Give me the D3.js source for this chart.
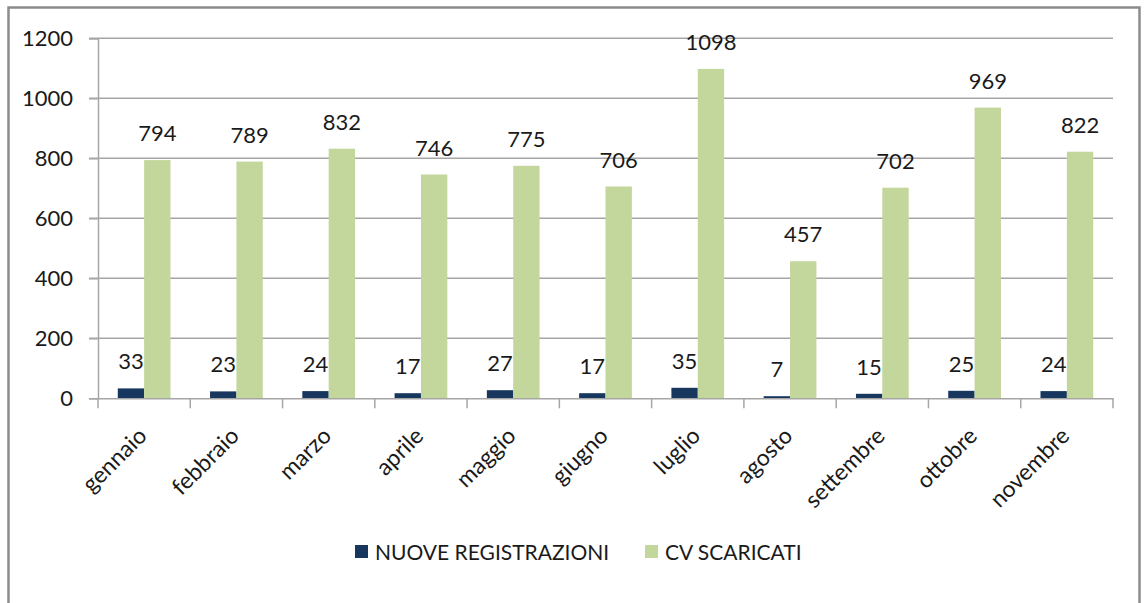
<!DOCTYPE html>
<html>
<head>
<meta charset="utf-8">
<script src="https://cdn.jsdelivr.net/npm/d3@7"></script>
<style>
  html, body { margin: 0; padding: 0; background: #fff; }
  svg { display: block; font-family: Lato, "Open Sans", sans-serif; }
</style>
</head>
<body>
<svg id="chart" width="1145" height="603"></svg>
<script>
// Monthly figures
const months = ["gennaio", "febbraio", "marzo", "aprile", "maggio", "giugno",
                "luglio", "agosto", "settembre", "ottobre", "novembre"];
const nuoveRegistrazioni = [33, 23, 24, 17, 27, 17, 35, 7, 15, 25, 24];
const cvScaricati = [794, 789, 832, 746, 775, 706, 1098, 457, 702, 969, 822];
const seriesNames = ["NUOVE REGISTRAZIONI", "CV SCARICATI"];
const yTicks = [0, 200, 400, 600, 800, 1000, 1200];

const colors = ["#17375E", "#C3D69B"];
const textColor = "#1a1a1a";
const gridColor = "#A6A6A6";

const svg = d3.select("#chart");

// Outer frame
svg.append("path")
  .attr("d", "M8.5,604 V7.5 H1139.5 V604")
  .attr("fill", "none")
  .attr("stroke", "#8c8c8c")
  .attr("stroke-width", 2.5);

const plotLeft = 98, plotRight = 1113, plotTop = 38.3, plotBottom = 398.3;

const x = d3.scaleBand().domain(months).range([plotLeft, plotRight]).paddingInner(0).paddingOuter(0);
const y = d3.scaleLinear().domain([0, 1200]).range([plotBottom, plotTop]);

// Horizontal gridlines
svg.append("g")
  .selectAll("line")
  .data(yTicks.filter(d => d > 0))
  .join("line")
  .attr("x1", plotLeft - 9).attr("x2", plotRight)
  .attr("y1", d => y(d)).attr("y2", d => y(d))
  .attr("stroke", gridColor).attr("stroke-width", 1.5);

// Bars: two per month, 150% gap width
const inner = d3.scaleBand().domain([0, 1]).range([0, x.bandwidth()])
  .paddingInner(0).paddingOuter(0.75);

const series = [nuoveRegistrazioni, cvScaricati];
series.forEach((vals, si) => {
  const g = svg.append("g");
  g.selectAll("rect")
    .data(vals)
    .join("rect")
    .attr("x", (d, i) => x(months[i]) + inner(si))
    .attr("width", inner.bandwidth())
    .attr("y", d => y(d))
    .attr("height", d => y(0) - y(d))
    .attr("fill", colors[si]);
  g.selectAll("text")
    .data(vals)
    .join("text")
    .attr("x", (d, i) => x(months[i]) + inner(si) + inner.bandwidth() / 2)
    .attr("y", d => y(d) - 19)
    .attr("text-anchor", "middle")
    .attr("font-size", 22)
    .attr("fill", textColor)
    .text(d => d);
});

// Y axis
const yAxis = svg.append("g")
  .attr("transform", `translate(${plotLeft},0)`)
  .call(d3.axisLeft(y).tickValues(yTicks).tickSize(9).tickPadding(16).tickFormat(d3.format("d")));
yAxis.select(".domain").attr("stroke", gridColor).attr("stroke-width", 1.5);
yAxis.selectAll(".tick line").attr("stroke", gridColor).attr("stroke-width", 1.5);
yAxis.selectAll(".tick text")
  .attr("font-family", "Lato, sans-serif")
  .attr("font-size", 22)
  .attr("fill", textColor);

// X axis
const xAxis = svg.append("g")
  .attr("transform", `translate(0,${plotBottom})`)
  .call(d3.axisBottom(x).tickSize(0).tickFormat(""));
xAxis.select(".domain").attr("stroke", gridColor).attr("stroke-width", 1.5);

// Category boundary ticks
svg.append("g")
  .selectAll("line")
  .data(d3.range(months.length + 1))
  .join("line")
  .attr("x1", i => plotLeft + i * x.step())
  .attr("x2", i => plotLeft + i * x.step())
  .attr("y1", plotBottom).attr("y2", plotBottom + 10)
  .attr("stroke", gridColor).attr("stroke-width", 1.5);

// Rotated month labels
svg.append("g")
  .selectAll("text")
  .data(months)
  .join("text")
  .attr("transform", d => `translate(${x(d) + x.bandwidth() / 2 + 4},${plotBottom + 39}) rotate(-45)`)
  .attr("text-anchor", "end")
  .attr("font-size", 23)
  .attr("fill", textColor)
  .text(d => d);

// Legend
const legend = svg.append("g").attr("transform", "translate(355,545)");
const legendX = [0, 290];
seriesNames.forEach((name, i) => {
  const item = legend.append("g").attr("transform", `translate(${legendX[i]},0)`);
  item.append("rect").attr("width", 13).attr("height", 13).attr("fill", colors[i]);
  item.append("text")
    .attr("x", 20).attr("y", 14.5)
    .attr("font-size", 21)
    .attr("fill", textColor)
    .text(name);
});
</script>
</body>
</html>
